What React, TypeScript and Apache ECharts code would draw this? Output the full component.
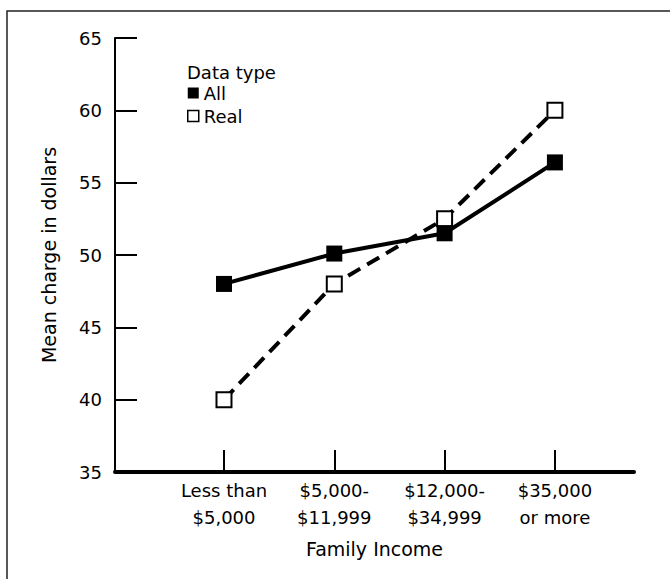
import React, { useEffect, useRef } from "react";
import * as echarts from "echarts";

const categories = ["Less than\n$5,000", "$5,000-\n$11,999", "$12,000-\n$34,999", "$35,000\nor more"];
const allValues = [48, 50.1, 51.5, 56.4];
const realValues = [40, 48, 52.5, 60];
const yTicks = [35, 40, 45, 50, 55, 60, 65];
const FONT = "DejaVu Sans";
const INK = "#000";

export default function App() {
  const ref = useRef<HTMLDivElement>(null);
  useEffect(() => {
    if (!ref.current) return;
    const chart = echarts.init(ref.current, null, { renderer: "svg" });
    const idx = categories.map((_, i) => i);
    chart.setOption({
      animation: false,
      backgroundColor: "#fff",
      textStyle: { fontFamily: FONT, color: INK },
      title: {
        text: "Data type",
        left: 187,
        top: 63,
        textStyle: { fontFamily: FONT, fontSize: 18, fontWeight: "normal", color: INK },
        padding: 0,
      },
      legend: {
        orient: "vertical",
        left: 187,
        top: 84,
        padding: 0,
        itemWidth: 11,
        itemHeight: 11,
        itemGap: 5,
        textStyle: { fontFamily: FONT, fontSize: 18, color: INK },
        data: [
          { name: "All", icon: "rect", itemStyle: { color: "#000", borderWidth: 0 } },
          { name: "Real", icon: "rect", itemStyle: { color: "#fff", borderColor: "#000", borderWidth: 1.5 } },
        ],
      },
      graphic: [
        {
          type: "rect",
          shape: { x: 7, y: 11, width: 700, height: 620 },
          style: { fill: "none", stroke: "#222", lineWidth: 1.5 },
          silent: true,
        },
      ],
      grid: { left: 115, right: 36, top: 38, bottom: 107 },
      xAxis: {
        type: "value",
        min: -0.988,
        max: 3.717,
        name: "Family Income",
        nameLocation: "middle",
        nameGap: 67,
        nameTextStyle: { fontFamily: FONT, fontSize: 19, color: INK },
        axisLine: { show: true, onZero: false, lineStyle: { color: "#000", width: 4 } },
        axisTick: { show: true, inside: true, length: 22, lineStyle: { color: "#000", width: 2 }, customValues: idx },
        axisLabel: {
          customValues: idx,
          formatter: (v: number) => categories[Math.round(v)] ?? "",
          fontFamily: FONT,
          fontSize: 18,
          color: INK,
          lineHeight: 27,
          margin: 5,
        },
        splitLine: { show: false },
      },
      yAxis: {
        type: "value",
        min: yTicks[0],
        max: yTicks[yTicks.length - 1],
        interval: 5,
        name: "Mean charge in dollars",
        nameLocation: "middle",
        nameGap: 57,
        nameTextStyle: { fontFamily: FONT, fontSize: 19, color: INK },
        axisLine: { show: true, onZero: false, lineStyle: { color: "#000", width: 2 } },
        axisTick: { show: true, inside: true, length: 22, lineStyle: { color: "#000", width: 2 } },
        axisLabel: { fontFamily: FONT, fontSize: 18, color: INK, margin: 13 },
        splitLine: { show: false },
      },
      series: [
        {
          name: "Real",
          type: "line",
          data: realValues.map((v, i) => [i, v]),
          symbol: "rect",
          symbolSize: 15,
          showAllSymbol: true,
          lineStyle: { color: "#000", width: 4, type: [14, 8] },
          itemStyle: { color: "#fff", borderColor: "#000", borderWidth: 2 },
          z: 2,
        },
        {
          name: "All",
          type: "line",
          data: allValues.map((v, i) => [i, v]),
          symbol: "rect",
          symbolSize: 16,
          showAllSymbol: true,
          lineStyle: { color: "#000", width: 4 },
          itemStyle: { color: "#000", borderWidth: 0 },
          z: 3,
        },
      ],
    });
    return () => chart.dispose();
  }, []);
  return <div ref={ref} style={{ position: "fixed", left: 0, top: 0, width: 670, height: 579 }} />;
}
